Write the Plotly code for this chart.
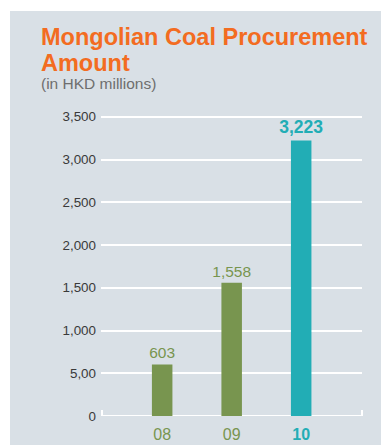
import plotly.graph_objects as go

years = ["08", "09", "10"]
values = [603, 1558, 3223]
value_labels = ["603", "1,558", "3,223"]
tick_vals = [0, 500, 1000, 1500, 2000, 2500, 3000, 3500]
tick_text = ["0", "5,00", "1,000", "1,500", "2,000", "2,500", "3,000", "3,500"]

GREEN = "#78954F"
TEAL = "#22ADB5"
ORANGE = "#F36C21"
PANEL = "#D9E0E6"
FONT = "Liberation Sans, Arial, sans-serif"

bar_colors = [GREEN, GREEN, TEAL]
label_text = [value_labels[0], value_labels[1], "<b>" + value_labels[2] + "</b>"]
label_sizes = [15.5, 15.5, 17.5]
x_ticktext = [
    years[0],
    years[1],
    '<span style="color:%s"><b>%s</b></span>' % (TEAL, years[2]),
]

# figure geometry (px)
W, H = 381, 445
L, R, T, B = 101, 19, 100, 29
pw, ph = W - L - R, H - T - B


def px_x(x):
    return (x - L) / pw


def px_y(y):
    return (H - B - y) / ph


fig = go.Figure(
    go.Bar(
        x=years,
        y=values,
        width=0.295,
        marker=dict(color=bar_colors, line=dict(width=0)),
        text=label_text,
        textposition="outside",
        constraintext="none",
        textfont=dict(color=bar_colors, size=label_sizes, family=FONT),
        cliponaxis=False,
        hoverinfo="skip",
    )
)

shapes = [
    dict(type="rect", xref="paper", yref="paper",
         x0=px_x(10), x1=px_x(W + 5), y0=px_y(11), y1=px_y(H + 5),
         fillcolor=PANEL, line=dict(width=0), layer="below"),
    # baseline with end ticks
    dict(type="line", xref="paper", yref="y", x0=0, x1=1, y0=0, y1=0,
         line=dict(color="white", width=2), layer="below"),
    dict(type="line", xref="paper", yref="paper", x0=px_x(102), x1=px_x(102),
         y0=0, y1=px_y(410), line=dict(color="white", width=2), layer="below"),
    dict(type="line", xref="paper", yref="paper", x0=px_x(362), x1=px_x(362),
         y0=0, y1=px_y(410), line=dict(color="white", width=2), layer="below"),
]

annotations = [
    dict(text="<b>Mongolian Coal Procurement</b>", xref="paper", yref="paper",
         x=px_x(39), y=px_y(37), xanchor="left", yanchor="middle", showarrow=False,
         font=dict(size=23.5, color=ORANGE, family=FONT)),
    dict(text="<b>Amount</b>", xref="paper", yref="paper",
         x=px_x(39), y=px_y(63), xanchor="left", yanchor="middle", showarrow=False,
         font=dict(size=23.5, color=ORANGE, family=FONT)),
    dict(text="(in HKD millions)", xref="paper", yref="paper",
         x=px_x(39), y=px_y(84), xanchor="left", yanchor="middle", showarrow=False,
         font=dict(size=15.5, color="#6E6E6E", family=FONT)),
]

fig.update_layout(
    width=W, height=H,
    margin=dict(l=L, r=R, t=T, b=B, pad=0, autoexpand=False),
    paper_bgcolor="white",
    plot_bgcolor="rgba(0,0,0,0)",
    showlegend=False,
    shapes=shapes,
    annotations=annotations,
    font=dict(family=FONT),
    xaxis=dict(
        type="category",
        range=[-0.88, 2.875],
        tickmode="array",
        tickvals=years,
        ticktext=x_ticktext,
        tickfont=dict(size=16, color=GREEN, family=FONT),
        showgrid=False,
        showline=False,
        zeroline=False,
        ticks="",
        ticklabelstandoff=7,
        automargin=False,
        fixedrange=True,
    ),
    yaxis=dict(
        range=[0, 3696],
        tickmode="array",
        tickvals=tick_vals,
        ticktext=tick_text,
        tickfont=dict(size=13.4, color="#3A3A3A", family=FONT),
        showgrid=True,
        gridcolor="white",
        gridwidth=1.5,
        showline=False,
        zeroline=False,
        ticks="",
        ticklabelstandoff=4,
        automargin=False,
        fixedrange=True,
    ),
)

fig.write_html("out.html", config={"displayModeBar": False})
